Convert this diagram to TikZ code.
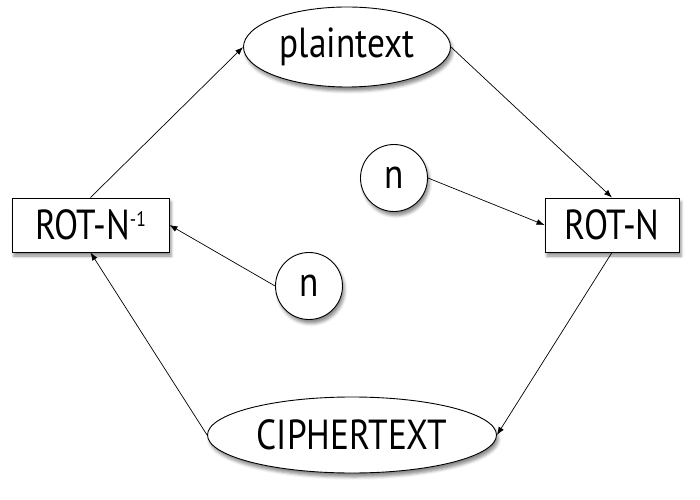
\documentclass[tikz,border=0pt]{standalone}
\usepackage{fontspec}
\setmainfont{PT Sans}[FakeStretch=0.84]
\usetikzlibrary{positioning,arrows.meta,shapes.geometric,shadows.blur}

\begin{document}
\begin{tikzpicture}[
		x=1bp, y=-1bp,
		>={Latex[length=8bp,width=6bp]},
		line width=0.7bp,
		base_shape/.style={
			draw=black, fill=white, line width=0.9bp,
			font=\fontsize{42bp}{46bp}\selectfont, inner sep=0pt,
			blur shadow={shadow xshift=2bp, shadow yshift=-4bp, shadow blur radius=3bp, shadow opacity=45}
		},
		text_oval/.style={base_shape, ellipse},
		rot_box/.style={base_shape, rectangle, minimum height=54bp},
		key_node/.style={base_shape, circle, minimum size=67bp}
		]
		\useasboundingbox (0,0) rectangle (700,500);
		
		% --- TEXT NODES ---
		\node[text_oval, minimum width=207bp, minimum height=80bp] (plain) at (347,47) {plaintext};
		\node[text_oval, minimum width=289bp, minimum height=76bp] (cipher) at (352,435) {CIPHERTEXT};
		
		% --- ROTATION BOXES ---
		\node[rot_box, minimum width=157bp] (rot_inv) at (90.5,225) {ROT-N\raisebox{13bp}{\fontsize{21bp}{21bp}\selectfont -1}};
		\node[rot_box, minimum width=134bp] (rot) at (612,225) {ROT-N};
		
		% --- KEYS ---
		\node[key_node] (n_enc) at (394,178) {n};
		\node[key_node] (n_dec) at (309,286) {n};
		
		% --- CYCLE ---
		\draw[->] (rot_inv.north) -- (plain.west);
		\draw[->] (plain.east) -- (rot.north);
		\draw[->] (rot.south) -- (cipher.east);
		\draw[->] (cipher.west) -- (rot_inv.south);
		
		% --- KEY INPUTS ---
		\draw[->] (n_enc.east) -- (rot.west);
		\draw[->] (n_dec.west) -- (rot_inv.east);
		
	\end{tikzpicture}
\end{document}
